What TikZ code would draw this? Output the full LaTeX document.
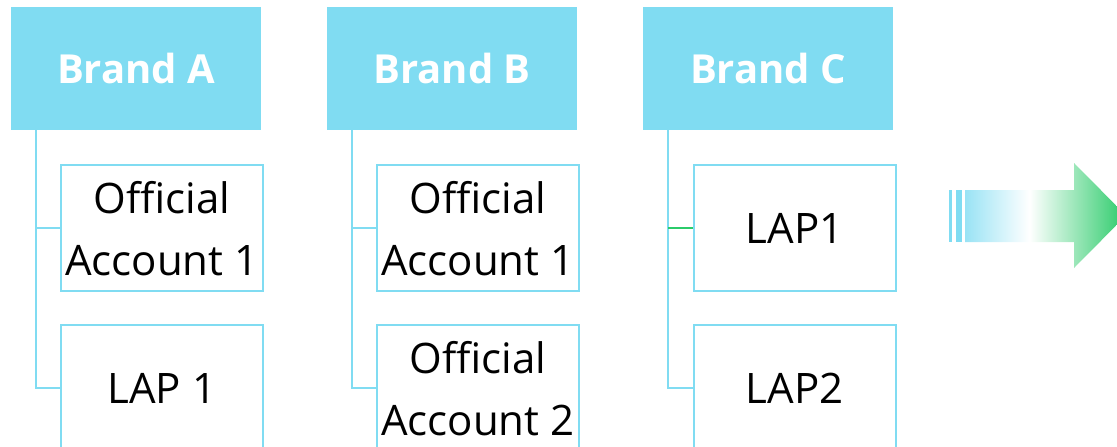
\documentclass[tikz,border=0pt]{standalone}
\usepackage{fontspec}
\setmainfont{Open Sans}
\usetikzlibrary{positioning}

\definecolor{brandblue}{HTML}{80DCF2}
\definecolor{lapgreen}{HTML}{2BCB6A}

\tikzstyle{brand} = [fill=brandblue, text=white, font=\fontsize{40}{48}\selectfont\bfseries, minimum width=250pt, minimum height=123pt, inner sep=0pt]
\tikzstyle{account} = [draw=brandblue, line width=2pt, fill=white, align=center, font=\fontsize{42}{62}\selectfont, minimum width=202pt, minimum height=126pt, inner sep=0pt]
\tikzstyle{tree} = [draw=brandblue, line width=2pt]

% blue -> white -> green, path spans 25bp..75bp
\pgfdeclarehorizontalshading{fadearrow}{100bp}{color(0bp)=(brandblue!80); color(25bp)=(brandblue!80); color(45bp)=(white); color(75bp)=(lapgreen); color(100bp)=(lapgreen)}

\begin{document}
\begin{tikzpicture}[x=1pt, y=-1pt]
    \useasboundingbox (0,0) rectangle (1117,447);
    \clip (0,0) rectangle (1117,447);

    % brand headers
    \node[brand] (brandA) at (136,68.5) {Brand A};
    \node[brand] (brandB) at (452,68.5) {Brand B};
    \node[brand] (brandC) at (768,68.5) {Brand C};

    % accounts under each brand
    \node[account, below right=34pt and 49pt of brandA.south west] (offA1) {Official\\Account 1};
    \node[account, below=32pt of offA1] (lapA) {LAP 1};

    \node[account, below right=34pt and 49pt of brandB.south west] (offB1) {Official\\Account 1};
    \node[account, below=32pt of offB1] (offB2) {Official\\Account 2};

    \node[account, below right=34pt and 50pt of brandC.south west] (lapC1) {LAP1};
    \node[account, below=32pt of lapC1] (lapC2) {LAP2};

    % tree lines
    \coordinate (trunkA) at ([xshift=25pt]brandA.south west);
    \coordinate (trunkB) at ([xshift=25pt]brandB.south west);
    \coordinate (trunkC) at ([xshift=25pt]brandC.south west);

    \draw[tree] (trunkA) |- (lapA.west);
    \draw[tree] (trunkA |- offA1.west) -- (offA1.west);

    \draw[tree] (trunkB) |- (offB2.west);
    \draw[tree] (trunkB |- offB1.west) -- (offB1.west);

    \draw[tree] (trunkC) |- (lapC2.west);
    \draw[tree, draw=lapgreen] (trunkC |- lapC1.west) -- (lapC1.west);

    % arrow
    \fill[brandblue] (949,190) rectangle (952,242);
    \fill[brandblue] (956,190) rectangle (962,242);
    \shade[shading=fadearrow] (965,190) -- (1074,190) -- (1074,163) -- (1126,215.5) -- (1074,268) -- (1074,242) -- (965,242) -- cycle;
\end{tikzpicture}
\end{document}
